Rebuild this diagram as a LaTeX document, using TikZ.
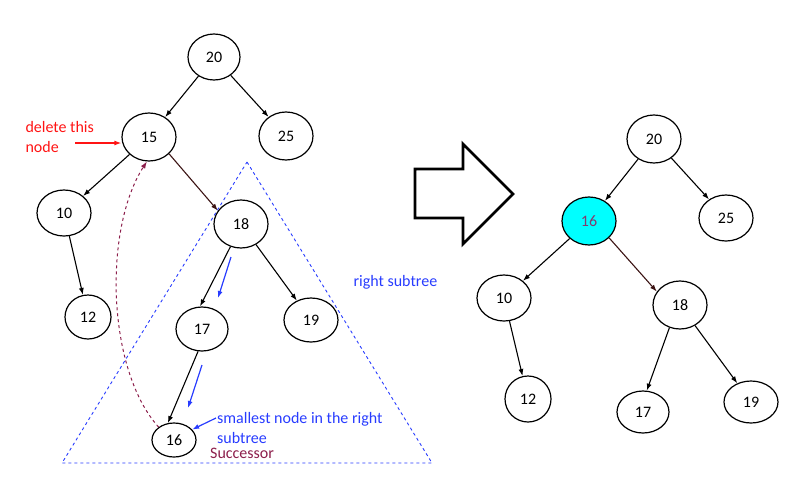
\documentclass[tikz,border=0pt]{standalone}
\usepackage{fontspec}
\setmainfont{Carlito}
\usetikzlibrary{shapes.geometric,arrows.meta}
\definecolor{delred}{RGB}{255,20,20}
\definecolor{subblue}{RGB}{40,60,255}
\definecolor{succ}{RGB}{140,30,75}
\definecolor{brownedge}{RGB}{60,20,20}
\definecolor{sixteen}{RGB}{130,60,110}
\definecolor{cyanfill}{RGB}{0,255,255}
\tikzset{
  bnode/.style={ellipse, draw=black, line width=1.2pt, inner sep=0pt, font=\fontsize{16}{18}\selectfont},
  edge/.style={-{Latex[length=7pt,width=5pt]}, line width=1.1pt, black},
  blab/.style={font=\fontsize{16}{19}\selectfont, text=subblue, align=left},
  barrow/.style={-{Latex[length=7pt,width=5pt]}, line width=1.2pt, subblue},
}
\begin{document}
\begin{tikzpicture}[x=1pt,y=-1pt]
\useasboundingbox (0,0) rectangle (800,480);
% ---------- left tree ----------
\node[bnode, minimum width=52pt, minimum height=46pt] (L20) at (214,57) {20};
\node[bnode, minimum width=54pt, minimum height=48pt] (L15) at (149,137) {15};
\node[bnode, minimum width=54pt, minimum height=48pt] (L25) at (286,136) {25};
\node[bnode, minimum width=54pt, minimum height=46pt] (L10) at (64,213) {10};
\node[bnode, minimum width=54pt, minimum height=48pt] (L18) at (241,224) {18};
\node[bnode, minimum width=46pt, minimum height=44pt] (L12) at (88,317) {12};
\node[bnode, minimum width=52pt, minimum height=44pt] (L17) at (202,329) {17};
\node[bnode, minimum width=54pt, minimum height=44pt] (L19) at (311,320) {19};
\node[bnode, minimum width=44pt, minimum height=34pt] (L16) at (174,440) {16};

\draw[edge] (L20) -- (L15);
\draw[edge] (L20) -- (L25);
\draw[edge] (L15) -- (L10);
\draw[edge, brownedge] (L15.-40) -- (L18.150);
\draw[edge] (L10) -- (L12);
\draw[edge] (L18.-115) -- (L17.95);
\draw[edge] (L18) -- (L19);
\draw[edge] (L17.-100) -- (L16.110);

% triangle
\coordinate (Tapex) at (247,162);
\coordinate (Tleft) at (62,463);
\coordinate (Tright) at (432,463);
\draw[subblue, dashed, line width=0.9pt] (Tapex) -- (Tright) -- (Tleft) -- cycle;

% labels
\node[font=\fontsize{16}{20}\selectfont, text=delred, align=left, anchor=west] (del) at (22,137) {delete this\\node};
\coordinate (delA) at (75,143);
\draw[-{Latex[length=7pt,width=5pt]}, delred, line width=1.2pt] (delA) -- (L15.west |- delA);

\node[blab, anchor=west] (rs) at (350,282) {right subtree};
\node[blab, anchor=base west, inner sep=0pt, font=\fontsize{16}{20}\selectfont] (small) at (217,443) {smallest node in the right\\subtree};
\coordinate (smA) at (216,418);
\draw[barrow] (smA) -- (L16.30);
\node[font=\fontsize{16}{18}\selectfont, text=succ, anchor=base west, inner sep=0pt] (suc) at (210,458) {Successor};

\coordinate (b1s) at (231,257);
\coordinate (b1e) at (218,298);
\draw[barrow] (b1s) -- (b1e);
\coordinate (b2s) at (202,365);
\coordinate (b2e) at (188,408);
\draw[barrow] (b2s) -- (b2e);

% successor curve
\draw[succ, dashed, line width=1pt, -{Latex[length=7pt,width=5pt]}] (L16.140) .. controls (107,370) and (103,230) .. (L15.-95);

% ---------- big arrow ----------
\draw[line width=2.8pt, line join=miter, black] (415,169) -- (463,169) -- (463,144) -- (513,194) -- (463,244) -- (463,218) -- (415,218) -- cycle;

% ---------- right tree ----------
\node[bnode, minimum width=54pt, minimum height=48pt] (R20) at (654,139) {20};
\node[bnode, minimum width=54pt, minimum height=48pt, fill=cyanfill, text=sixteen] (R16) at (589,221) {16};
\node[bnode, minimum width=54pt, minimum height=46pt] (R25) at (726,218) {25};
\node[bnode, minimum width=54pt, minimum height=46pt] (R10) at (504,298) {10};
\node[bnode, minimum width=54pt, minimum height=48pt] (R18) at (680,305) {18};
\node[bnode, minimum width=46pt, minimum height=46pt] (R12) at (528,399) {12};
\node[bnode, minimum width=52pt, minimum height=42pt] (R17) at (643,412) {17};
\node[bnode, minimum width=54pt, minimum height=42pt] (R19) at (751,402) {19};

\draw[edge] (R20) -- (R16);
\draw[edge] (R20) -- (R25);
\draw[edge] (R16) -- (R10);
\draw[edge, brownedge] (R16.-40) -- (R18.150);
\draw[edge] (R10) -- (R12);
\draw[edge] (R18.-115) -- (R17.80);
\draw[edge] (R18) -- (R19);
\end{tikzpicture}
\end{document}
